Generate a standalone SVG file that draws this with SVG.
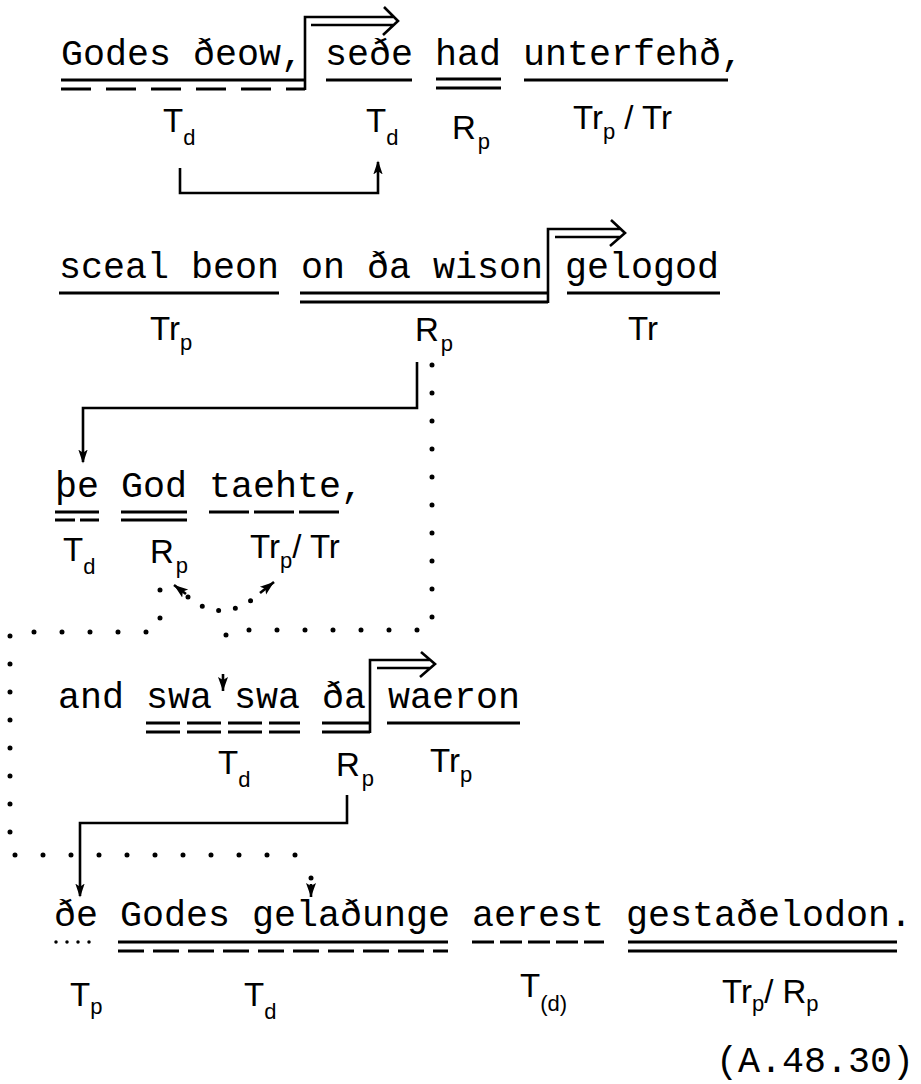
<svg xmlns="http://www.w3.org/2000/svg" width="921" height="1084" viewBox="0 0 921 1084">
<style>
.tw{font-family:"Liberation Mono","DejaVu Sans Mono",monospace;font-size:36.67px;fill:#000}
.lb{font-family:"Liberation Sans","DejaVu Sans",sans-serif;font-size:33px;fill:#000}
.sb{font-size:22px}
.ul{stroke:#000;stroke-width:3;fill:none}
.ln{stroke:#000;stroke-width:2.6;fill:none}
.dot{stroke:#000;stroke-width:5;stroke-linecap:round;fill:none;stroke-dasharray:0 28}
</style>
<defs>
<marker id="ah" markerUnits="userSpaceOnUse" markerWidth="14" markerHeight="20" refX="16" refY="6" orient="auto" viewBox="0 0 18 12">
<path d="M0,0 L18,6 L0,12 L4,6 Z" fill="#000"/>
</marker>
<marker id="sh" markerUnits="userSpaceOnUse" markerWidth="14" markerHeight="16" refX="14" refY="5" orient="auto" viewBox="0 0 14 10">
<path d="M0,0 L14,5 L0,10 L3,5 Z" fill="#000"/>
</marker>
</defs>
<rect width="921" height="1084" fill="#fff"/>

<!-- Line 1 -->
<g id="n-godes-deow">
<text class="tw" x="61" y="65">Godes ðeow,</text>
<path class="ul" d="M61,80 H305"/>
<path class="ul" d="M61,89 H305" stroke-dasharray="30 15"/>
<path class="ln" d="M305,90 V17 H393 M311,25 H393 M384,7 L398,21 L383,35"/>
<text class="lb" x="163" y="132">T<tspan class="sb" dy="13">d</tspan></text>
</g>
<g id="n-sede">
<text class="tw" x="325" y="65">seðe</text>
<path class="ul" d="M326,80 H412"/>
<text class="lb" x="366" y="132">T<tspan class="sb" dy="13">d</tspan></text>
</g>
<g id="n-had">
<text class="tw" x="435" y="65">had</text>
<path class="ul" d="M436,79 H501 M436,88 H501"/>
<text class="lb" x="452" y="139">R<tspan class="sb" dx="2" dy="10">p</tspan></text>
</g>
<g id="n-unterfehd">
<text class="tw" x="523" y="65">unterfehð,</text>
<path class="ul" d="M524,80 H728"/>
<text class="lb" x="573" y="129">Tr<tspan class="sb" dy="10">p</tspan><tspan dy="-10"> / Tr</tspan></text>
</g>

<!-- Line 2 -->
<g id="n-sceal-beon">
<text class="tw" x="59" y="278">sceal beon</text>
<path class="ul" d="M59,293 H279"/>
<text class="lb" x="150" y="340">Tr<tspan class="sb" dy="10">p</tspan></text>
</g>
<g id="n-on-da-wison">
<text class="tw" x="301" y="278">on ða wison</text>
<path class="ul" d="M300,293 H548 M300,302 H548"/>
<path class="ln" d="M548,303 V229 H620 M555,237 H620 M611,220 L625,233 L610,246"/>
<text class="lb" x="415" y="341">R<tspan class="sb" dx="2" dy="10">p</tspan></text>
</g>
<g id="n-gelogod">
<text class="tw" x="565" y="278">gelogod</text>
<path class="ul" d="M567,293 H720"/>
<text class="lb" x="628" y="340">Tr</text>
</g>

<!-- Line 3 -->
<g id="n-pe">
<text class="tw" x="55" y="497">þe</text>
<path class="ul" d="M55,512 H99 M55,520 H75 M80,520 H99"/>
<text class="lb" x="63" y="561">T<tspan class="sb" dy="13">d</tspan></text>
</g>
<g id="n-god">
<text class="tw" x="121" y="497">God</text>
<path class="ul" d="M121,512 H187 M121,520 H187"/>
<text class="lb" x="150" y="563">R<tspan class="sb" dx="2" dy="10">p</tspan></text>
</g>
<g id="n-taehte">
<text class="tw" x="209" y="497">taehte,</text>
<path class="ul" d="M209,512 H340" stroke-dasharray="40 5"/>
<text class="lb" x="250" y="558">Tr<tspan class="sb" dy="10">p</tspan><tspan dy="-10">/ Tr</tspan></text>
</g>

<!-- Line 4 -->
<g id="n-and">
<text class="tw" x="58" y="708">and</text>
</g>
<g id="n-swa-swa">
<text class="tw" x="146" y="708">swa swa</text>
<path class="ul" d="M146,723 H300 M146,732 H300" stroke-dasharray="34 7"/>
<text class="lb" x="218" y="774">T<tspan class="sb" dy="13">d</tspan></text>
</g>
<g id="n-da">
<text class="tw" x="322" y="708">ða</text>
<path class="ul" d="M322,723 H370 M322,732 H370"/>
<path class="ln" d="M370,733 V660 H430 M377,668 H430 M421,652 L435,664 L420,677"/>
<text class="lb" x="336" y="776">R<tspan class="sb" dx="2" dy="10">p</tspan></text>
</g>
<g id="n-waeron">
<text class="tw" x="388" y="708">waeron</text>
<path class="ul" d="M387,723 H520"/>
<text class="lb" x="430" y="772">Tr<tspan class="sb" dy="10">p</tspan></text>
</g>

<!-- Line 5 -->
<g id="n-de">
<text class="tw" x="54" y="926">ðe</text>
<path d="M56,942 H92" stroke="#000" stroke-width="3.5" stroke-linecap="round" stroke-dasharray="0 11" fill="none"/>
<text class="lb" x="70" y="1006">T<tspan class="sb" dy="8">p</tspan></text>
</g>
<g id="n-godes-geladunge">
<text class="tw" x="120" y="926">Godes gelaðunge</text>
<path class="ul" d="M118,942 H448"/>
<path class="ul" d="M118,951 H448" stroke-dasharray="26 9"/>
<text class="lb" x="244" y="1006">T<tspan class="sb" dy="13">d</tspan></text>
</g>
<g id="n-aerest">
<text class="tw" x="472" y="926">aerest</text>
<path class="ul" d="M472,942 H604" stroke-dasharray="22 6"/>
<text class="lb" x="520" y="997">T<tspan class="sb" dy="14">(d)</tspan></text>
</g>
<g id="n-gestadelodon">
<text class="tw" x="626" y="926">gestaðelodon.</text>
<path class="ul" d="M628,942 H897 M628,951 H897"/>
<text class="lb" x="722" y="1003">Tr<tspan class="sb" dy="8">p</tspan><tspan dy="-8">/ R</tspan><tspan class="sb" dy="8">p</tspan></text>
</g>

<g id="ref">
<text class="tw" x="716" y="1072">(A.48.30)</text>
</g>

<!-- Connectors -->
<g id="connectors">
<path class="ln" d="M180,168 V193 H378 V162" marker-end="url(#ah)"/>
<path class="ln" d="M417,362 V408 H83 V462" marker-end="url(#ah)"/>
<path class="ln" d="M347,795 V823 H80 V896" marker-end="url(#ah)"/>
<path class="dot" d="M432,365 V630 H226 V660"/>
<path class="ln" d="M223,674 V691" marker-end="url(#sh)"/>
<path class="dot" d="M160,590 V632 H10 V855 H306"/>
<circle cx="311" cy="878" r="2.5" fill="#000"/>
<path class="ln" d="M311,884 V897" marker-end="url(#sh)"/>
<path d="M188,597 Q220,624 256,597" stroke="#000" stroke-width="5" stroke-linecap="round" stroke-dasharray="0 17" fill="none"/>
<path class="ln" d="M186,594 L174,585" marker-end="url(#sh)"/>
<path class="ln" d="M260,593 L274,582" marker-end="url(#sh)"/>
</g>
</svg>
